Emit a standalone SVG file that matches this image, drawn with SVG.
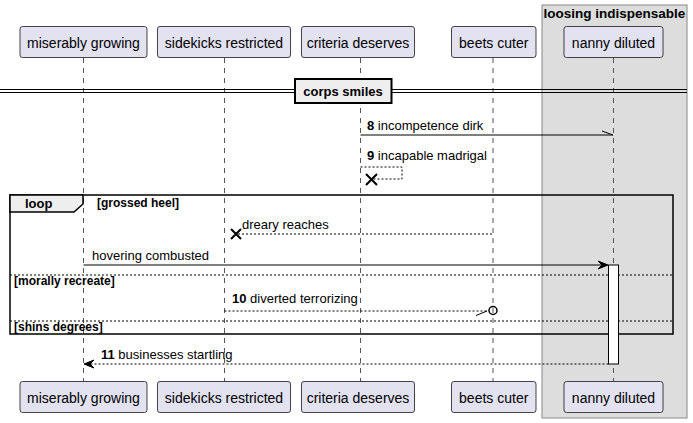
<svg xmlns="http://www.w3.org/2000/svg" width="693" height="423" viewBox="0 0 693 423">
<style>
text{font-family:"Liberation Sans",Arial,sans-serif;fill:#000}
.pname{font-size:14px;text-anchor:middle}
.msg{font-size:13px}
.b{font-weight:bold}
.guard{font-size:12px;font-weight:bold}
.part{fill:#E2E2F0;stroke:#181818;stroke-width:0.8}
.life{stroke:#555;stroke-width:1;stroke-dasharray:5,5}
.solid{stroke:#000;stroke-width:1;fill:none}
.dot{stroke:#000;stroke-width:1;stroke-dasharray:2,2;fill:none}
.sep{stroke:#000;stroke-width:1;stroke-dasharray:2,2}
</style>
<g id="box-loosing-indispensable">
<rect x="542" y="5" width="145" height="413" fill="#DDDDDD" stroke="#888" stroke-width="1"/>
<text x="614.5" y="18" class="b" font-size="13.5" text-anchor="middle">loosing indispensable</text>
</g>
<g id="lifelines">
<line class="life" x1="83.5" y1="58" x2="83.5" y2="382"/>
<line class="life" x1="224.5" y1="58" x2="224.5" y2="382"/>
<line class="life" x1="360.5" y1="58" x2="360.5" y2="382"/>
<line class="life" x1="493" y1="58" x2="493" y2="382"/>
<line class="life" x1="613.5" y1="58" x2="613.5" y2="382"/>
</g>
<g id="divider-corps-smiles">
<line x1="0" y1="89.5" x2="687" y2="89.5" stroke="#000" stroke-width="1"/>
<line x1="0" y1="92.5" x2="687" y2="92.5" stroke="#000" stroke-width="1"/>
<rect x="295" y="79" width="96.5" height="24" fill="#EEEEEE" stroke="#000" stroke-width="2"/>
<text x="343" y="96" class="msg b" text-anchor="middle">corps smiles</text>
</g>
<g id="loop-fragment">
<rect x="10" y="195" width="663" height="139" fill="none" stroke="#000" stroke-width="1.5"/>
<polygon points="10,195 83,195 83,204 74,212 10,212" fill="#EEEEEE" stroke="#000" stroke-width="1.5"/>
<text x="25" y="208" class="msg b">loop</text>
<text x="97" y="207" class="guard">[grossed heel]</text>
<line class="sep" x1="10" y1="275" x2="673" y2="275"/>
<text x="14" y="285" class="guard">[morally recreate]</text>
<line class="sep" x1="10" y1="321" x2="673" y2="321"/>
<text x="14" y="331" class="guard">[shins degrees]</text>
</g>
<g id="activation-nanny">
<rect x="608.5" y="265" width="10" height="99" fill="#FFFFFF" stroke="#000" stroke-width="1"/>
</g>
<g id="connectors">
<g id="msg8">
<line class="solid" x1="360.5" y1="135" x2="613" y2="135"/>
<line class="solid" x1="602" y1="131" x2="613" y2="135"/>
<text x="367" y="130" class="msg"><tspan class="b">8</tspan> incompetence dirk</text>
</g>
<g id="msg9">
<polyline class="dot" points="360.5,167 402,167 402,179 371,179"/>
<path d="M366,174 L377,185 M377,174 L366,185" stroke="#000" stroke-width="2" fill="none"/>
<text x="367" y="160" class="msg"><tspan class="b">9</tspan> incapable madrigal</text>
</g>
<g id="msg-dreary">
<line class="dot" x1="492" y1="234" x2="236" y2="234"/>
<path d="M231,229 L241,239 M241,229 L231,239" stroke="#000" stroke-width="2" fill="none"/>
<text x="242" y="229" class="msg">dreary reaches</text>
</g>
<g id="msg-hovering">
<line class="solid" x1="83.5" y1="265" x2="606" y2="265"/>
<polygon points="598,261 608,265 598,269 602,265" fill="#000" stroke="#000" stroke-width="1"/>
<text x="92" y="260" class="msg">hovering combusted</text>
</g>
<g id="msg10">
<line class="dot" x1="224.5" y1="311" x2="487" y2="311"/>
<line class="solid" x1="476" y1="315.5" x2="487" y2="311"/>
<circle cx="493" cy="310.5" r="4" fill="none" stroke="#000" stroke-width="1.5"/>
<text x="232" y="303" class="msg"><tspan class="b">10</tspan> diverted terrorizing</text>
</g>
<g id="msg11">
<line class="dot" x1="608.5" y1="364" x2="86" y2="364"/>
<polygon points="94,360 84,364 94,368 90,364" fill="#000" stroke="#000" stroke-width="1"/>
<text x="101" y="359" class="msg"><tspan class="b">11</tspan> businesses startling</text>
</g>
</g>
<g id="p-miserably-growing">
<rect class="part" x="20" y="26.5" width="127" height="31" rx="2.5"/>
<text class="pname" x="83.5" y="47.5">miserably growing</text>
<rect class="part" x="20" y="381.5" width="127" height="31" rx="2.5"/>
<text class="pname" x="83.5" y="402.5">miserably growing</text>
</g>
<g id="p-sidekicks-restricted">
<rect class="part" x="157.5" y="26.5" width="133" height="31" rx="2.5"/>
<text class="pname" x="224" y="47.5">sidekicks restricted</text>
<rect class="part" x="157.5" y="381.5" width="133" height="31" rx="2.5"/>
<text class="pname" x="224" y="402.5">sidekicks restricted</text>
</g>
<g id="p-criteria-deserves">
<rect class="part" x="301.5" y="26.5" width="113" height="31" rx="2.5"/>
<text class="pname" x="358" y="47.5">criteria deserves</text>
<rect class="part" x="301.5" y="381.5" width="113" height="31" rx="2.5"/>
<text class="pname" x="358" y="402.5">criteria deserves</text>
</g>
<g id="p-beets-cuter">
<rect class="part" x="451.5" y="26.5" width="84.5" height="31" rx="2.5"/>
<text class="pname" x="493.7" y="47.5">beets cuter</text>
<rect class="part" x="451.5" y="381.5" width="84.5" height="31" rx="2.5"/>
<text class="pname" x="493.7" y="402.5">beets cuter</text>
</g>
<g id="p-nanny-diluted">
<rect class="part" x="564" y="26.5" width="99" height="31" rx="2.5"/>
<text class="pname" x="613.5" y="47.5">nanny diluted</text>
<rect class="part" x="564" y="381.5" width="99" height="31" rx="2.5"/>
<text class="pname" x="613.5" y="402.5">nanny diluted</text>
</g>
</svg>
